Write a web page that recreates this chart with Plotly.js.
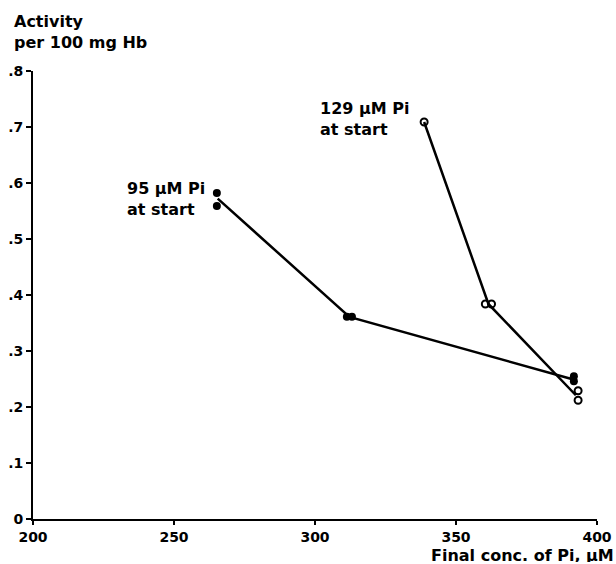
<!DOCTYPE html>
<html><head><meta charset="utf-8">
<script src="https://cdn.plot.ly/plotly-3.0.1.min.js"></script>
<style>html,body{margin:0;padding:0;background:#fff;}#plot{width:616px;height:564px;}</style>
</head><body><div id="plot"></div>
<script>
// 95 µM Pi at start (filled circles)
const filledX = [265.2, 265.2, 311.3, 313.1, 391.8, 391.8];
const filledY = [0.582, 0.559, 0.361, 0.361, 0.255, 0.246];
const filledLineX = [265.5, 312.2, 391.0];
const filledLineY = [0.572, 0.361, 0.250];
// 129 µM Pi at start (open circles)
const openX = [338.7, 360.4, 362.6, 393.3, 393.3];
const openY = [0.709, 0.384, 0.384, 0.229, 0.212];
const openLineX = [338.7, 361.5, 392.5];
const openLineY = [0.709, 0.384, 0.221];
// axis ticks
const xTicks = [200, 250, 300, 350, 400];
const xTickText = ["200", "250", "300", "350", "400"];
const yTicks = [0, 0.1, 0.2, 0.3, 0.4, 0.5, 0.6, 0.7, 0.8];
const yTickText = ["0", ".1", ".2", ".3", ".4", ".5", ".6", ".7", ".8"];

const txtFont = {family: "DejaVu Sans", size: 16, color: "#000", weight: "bold"};
const tickFont = {family: "DejaVu Sans", size: 14, color: "#000", weight: 700};
const bold = s => "<b>" + s + "</b>";

const traces = [
  {x: filledLineX, y: filledLineY, mode: "lines", line: {color: "#000", width: 2.5}, hoverinfo: "skip"},
  {x: openLineX, y: openLineY, mode: "lines", line: {color: "#000", width: 2.5}, hoverinfo: "skip"},
  {x: filledX, y: filledY, mode: "markers", marker: {symbol: "circle", size: 8, color: "#000"}},
  {x: openX, y: openY, mode: "markers", marker: {symbol: "circle-open", size: 7, color: "#000", line: {width: 2, color: "#000"}}}
];

const layout = {
  width: 616, height: 564,
  margin: {l: 33, r: 19, t: 71, b: 45},
  paper_bgcolor: "#fff", plot_bgcolor: "#fff",
  showlegend: false,
  xaxis: {range: [200, 400], tickvals: xTicks, ticktext: xTickText.map(bold), tickfont: tickFont,
          showgrid: false, zeroline: false, showline: true, linecolor: "#000", linewidth: 2,
          ticks: "outside", ticklen: 4, tickwidth: 2, tickcolor: "#000"},
  yaxis: {range: [0, 0.8], tickvals: yTicks, ticktext: yTickText.map(bold), tickfont: tickFont,
          showgrid: false, zeroline: false, showline: true, linecolor: "#000", linewidth: 2,
          ticks: "outside", ticklen: 5, tickwidth: 2, tickcolor: "#000"},
  annotations: [
    {text: "Activity<br>per 100 mg Hb", x: (12-33)/564, y: (519-10)/448, xref: "paper", yref: "paper",
     xanchor: "left", yanchor: "top", align: "left", showarrow: false, font: txtFont},
    {text: "95 µM Pi<br>at start", x: 232.6, y: 0.571, xref: "x", yref: "y", xanchor: "left", yanchor: "middle",
     align: "left", showarrow: false, font: txtFont},
    {text: "129 µM Pi<br>at start", x: 301.1, y: 0.715, xref: "x", yref: "y", xanchor: "left", yanchor: "middle",
     align: "left", showarrow: false, font: txtFont},
    {text: "Final conc. of Pi, µM", x: (615-33)/564, y: (519-555)/448, xref: "paper", yref: "paper",
     xanchor: "right", yanchor: "middle", height: 14, borderpad: 0, showarrow: false, font: txtFont}
  ]
};
Plotly.newPlot("plot", traces, layout, {displayModeBar: false, staticPlot: true});
</script></body></html>
